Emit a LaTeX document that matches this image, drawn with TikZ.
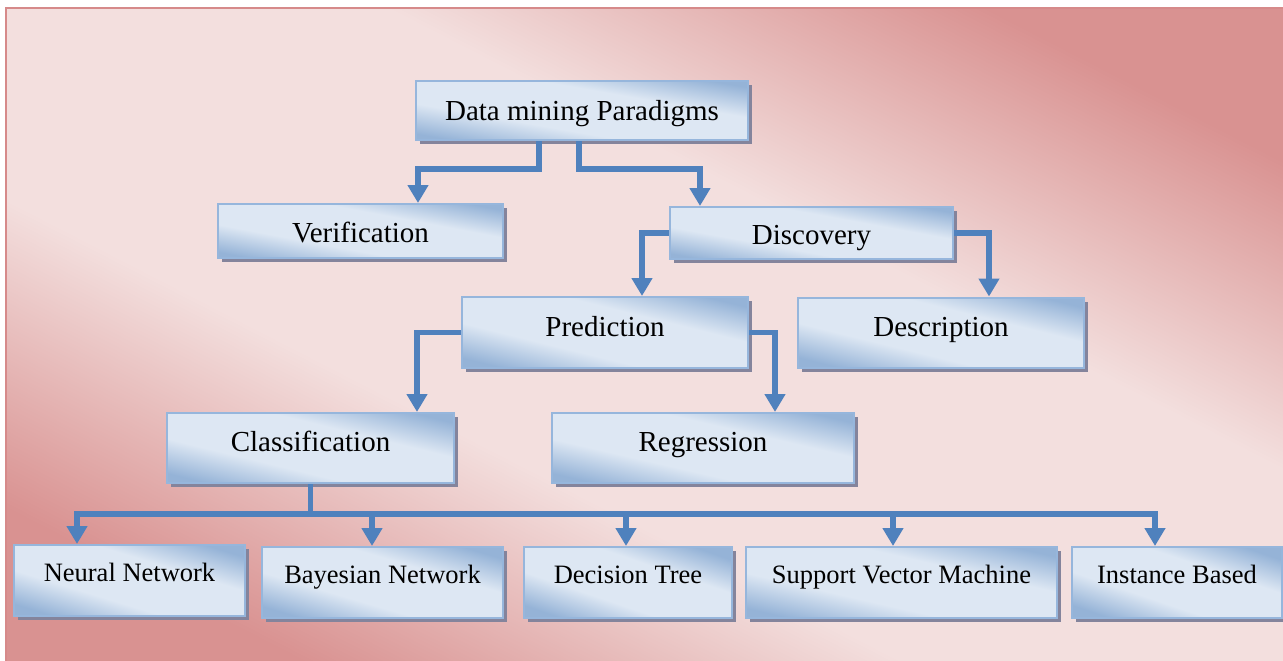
\documentclass[tikz,border=0pt]{standalone}
\usepackage{fontspec}
\setmainfont{Liberation Serif}
\usetikzlibrary{arrows.meta,shadows}
\definecolor{bgdark}{RGB}{217,146,145}
\definecolor{bglight}{RGB}{243,223,222}
\definecolor{framec}{RGB}{214,138,138}
\definecolor{boxlight}{RGB}{221,231,243}
\definecolor{boxdark}{RGB}{149,179,215}
\definecolor{boxline}{RGB}{150,182,220}
\definecolor{shadowc}{RGB}{132,132,156}
\definecolor{arrowc}{RGB}{79,129,189}
\pgfdeclareverticalshading{bgsh}{100bp}{color(0bp)=(bgdark); color(24bp)=(bgdark); color(40bp)=(bglight); color(60bp)=(bglight); color(76bp)=(bgdark); color(100bp)=(bgdark)}
\pgfdeclareverticalshading{boxsh}{100bp}{color(0bp)=(boxdark); color(24bp)=(boxdark); color(39bp)=(boxlight); color(61bp)=(boxlight); color(76bp)=(boxdark); color(100bp)=(boxdark)}
\begin{document}
\begin{tikzpicture}[x=1pt,y=-1pt,
  box/.style={rectangle, draw=boxline, line width=2pt, inner sep=0pt,
    shade, shading=boxsh, shading angle=-13,
    drop shadow={shadow xshift=4pt, shadow yshift=-4pt, fill=shadowc, opacity=1},
    font=\fontsize{29}{34}\selectfont, text height=19pt, text depth=0pt},
  leaf/.style={box, font=\fontsize{26.5}{31}\selectfont, text height=17.4pt, text depth=16pt,
    minimum height=71pt},
  conn/.style={draw=arrowc, line width=5.5pt, line join=miter, -{Triangle[width=20pt,length=18pt]}}]
\useasboundingbox (0,0) rectangle (1283,661);
% background
\shade[shading=bgsh, shading angle=-27.25] (6,8) rectangle (1283,661);
\draw[framec, line width=2.5pt] (6,665) -- (6,8) -- (1290,8);
% boxes
\node[box, minimum width=332pt, minimum height=59pt, text height=20pt, shading angle=-10] (dm) at (582,110.5) {Data mining Paradigms};
\node[box, minimum width=285pt, minimum height=54pt, text height=23pt, shading angle=-10.7] (ver) at (360.5,231) {Verification};
\node[box, minimum width=283pt, minimum height=52pt, text height=23pt, shading angle=-10.4] (dis) at (811.5,233) {Discovery};
\node[box, minimum width=286pt, minimum height=71pt, text depth=11pt, shading angle=-13.9] (pred) at (605,332.5) {Prediction};
\node[box, minimum width=286pt, minimum height=70pt, text depth=12pt, shading angle=-13.8] (desc) at (941,332.5) {Description};
\node[box, minimum width=287pt, minimum height=70pt, text depth=12pt, shading angle=-13.7] (class) at (310.5,448) {Classification};
\node[box, minimum width=302pt, minimum height=70pt, text depth=12pt, shading angle=-13] (reg) at (703,448) {Regression};
\node[leaf, minimum width=231pt, shading angle=-17.1] (nn) at (129.5,580.5) {Neural Network};
\node[leaf, minimum width=241pt, shading angle=-16.4] (bn) at (382.5,582.5) {Bayesian Network};
\node[leaf, minimum width=208pt, shading angle=-18.8] (dt) at (628,582.5) {Decision Tree};
\node[leaf, minimum width=311pt, shading angle=-12.9] (svm) at (901.5,582.5) {Support Vector Machine};
\node[leaf, minimum width=210pt, shading angle=-18.7] (ib) at (1177,582.5) {Instance Based};
% connectors
\draw[conn] ([xshift=-43pt]dm.south) -- ++(0,28) -| ([xshift=57.5pt]ver.north);
\draw[conn] ([xshift=-3pt]dm.south) -- ++(0,28) -| ([xshift=-111.5pt]dis.north);
\draw[conn] (dis.west) -| ([xshift=37pt]pred.north);
\draw[conn] (dis.east) -| ([xshift=48pt]desc.north);
\draw[conn] (pred.west) -| ([xshift=106.5pt]class.north);
\draw[conn] (pred.east) -| ([xshift=72pt]reg.north);
\foreach \n/\s in {nn/-52.5pt,bn/-10.5pt,dt/-2pt,svm/-8.5pt,ib/-22pt}
  \draw[conn] (class.south) -- ++(0,30) -| ([xshift=\s]\n.north);
\end{tikzpicture}
\end{document}
